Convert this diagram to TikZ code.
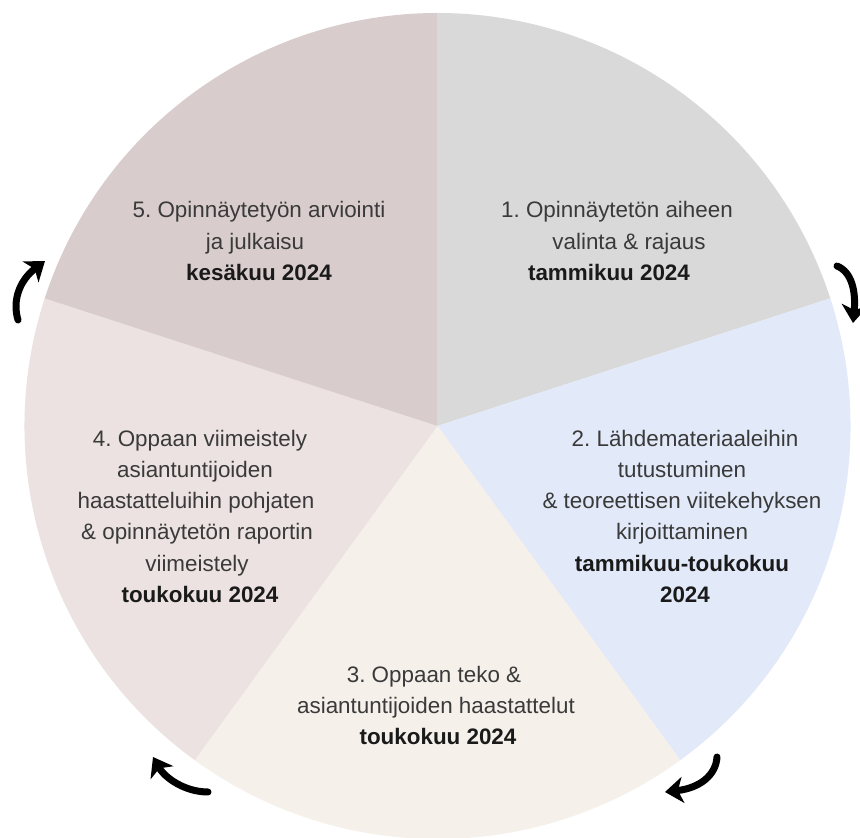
\documentclass[tikz,border=0pt]{standalone}
\usepackage{fontspec}
\setmainfont{Liberation Sans}
\usetikzlibrary{arrows.meta}
\definecolor{sA}{HTML}{D9D9D9}
\definecolor{sB}{HTML}{E2E9F8}
\definecolor{sC}{HTML}{F5F0EA}
\definecolor{sD}{HTML}{EBE2E1}
\definecolor{sE}{HTML}{D8CDCC}
\definecolor{txt}{HTML}{3A3A3A}
\definecolor{txtb}{HTML}{1A1A1A}
\frenchspacing
\begin{document}
\begin{tikzpicture}[x=1pt,y=1pt,
  lbl/.style={font=\fontsize{22.4}{27}\selectfont, text=txt, inner sep=0pt, anchor=base},
  lblb/.style={lbl, text=txtb, font=\fontsize{22.4}{27}\selectfont\bfseries},
  cyc/.style={line width=7pt, line cap=round, draw=black,
    -{Stealth[length=18pt,width=26pt,inset=5pt]}}]
\useasboundingbox (0,0) rectangle (860,838);
\fill[white] (0,0) rectangle (860,838);
\coordinate (C) at (437.5,412);
\def\R{413pt}
\fill[sA] (C) -- ++(90:\R) arc[start angle=90, end angle=18, radius=\R] -- cycle;
\fill[sB] (C) -- ++(18:\R) arc[start angle=18, end angle=-54, radius=\R] -- cycle;
\fill[sC] (C) -- ++(-54:\R) arc[start angle=-54, end angle=-126, radius=\R] -- cycle;
\fill[sD] (C) -- ++(-126:\R) arc[start angle=-126, end angle=-198, radius=\R] -- cycle;
\fill[sE] (C) -- ++(162:\R) arc[start angle=162, end angle=90, radius=\R] -- cycle;
% sector 1
\node[lbl]  (a1) at (617,620) {1. Opinnäytetön aiheen};
\node[lbl]  (a2) at (629,588) {valinta \& rajaus};
\node[lblb] (a3) at (609,557) {tammikuu 2024};
% sector 5
\node[lbl]  (e1) at (259,620) {5. Opinnäytetyön arviointi};
\node[lbl]  (e2) at (255,588) {ja julkaisu};
\node[lblb] (e3) at (259,557) {kesäkuu 2024};
% sector 2
\node[lbl]  (b1) at (685,391) {2. Lähdemateriaaleihin};
\node[lbl]  (b2) at (682,360) {tutustuminen};
\node[lbl]  (b3) at (682,329) {\& teoreettisen viitekehyksen};
\node[lbl]  (b4) at (682,298) {kirjoittaminen};
\node[lblb] (b5) at (682,266) {tammikuu-toukokuu};
\node[lblb] (b6) at (685,235) {2024};
% sector 4
\node[lbl]  (d1) at (200,391) {4. Oppaan viimeistely};
\node[lbl]  (d2) at (195,360) {asiantuntijoiden};
\node[lbl]  (d3) at (196,329) {haastatteluihin pohjaten};
\node[lbl]  (d4) at (197,298) {\& opinnäytetön raportin};
\node[lbl]  (d5) at (197,266) {viimeistely};
\node[lblb] (d6) at (200,235) {toukokuu 2024};
% sector 3
\node[lbl]  (c1) at (434,155) {3. Oppaan teko \&};
\node[lbl]  (c2) at (436,124) {asiantuntijoiden haastattelut};
\node[lblb] (c3) at (438,93) {toukokuu 2024};
% cycle arrows
\coordinate (r1s) at (837,572);
\coordinate (r1e) at (853,515);
\coordinate (r2s) at (717,81);
\coordinate (r2e) at (665,46);
\coordinate (r3s) at (208,46);
\coordinate (r3e) at (153,81);
\coordinate (r4s) at (18,518);
\coordinate (r4e) at (45,577);
\draw[cyc] (r1s) .. controls (852,566) and (856,546) .. (r1e);
\draw[cyc] (r2s) .. controls (716,63) and (700,50) .. (r2e);
\draw[cyc] (r3s) .. controls (185,46) and (165,60) .. (r3e);
\draw[cyc] (r4s) .. controls (12,538) and (20,558) .. (r4e);
\end{tikzpicture}
\end{document}
